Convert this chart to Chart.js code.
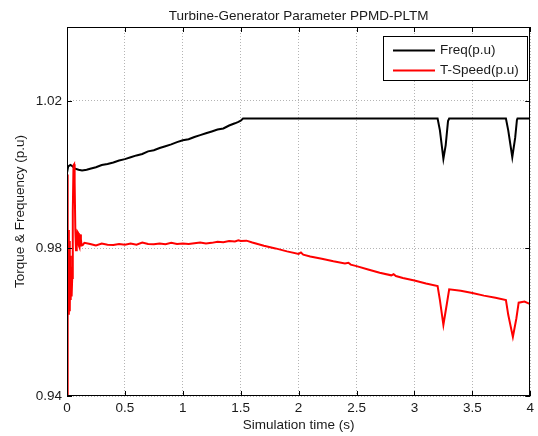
<!DOCTYPE html>
<html><head><meta charset="utf-8">
<script src="https://cdn.jsdelivr.net/npm/chart.js@4/dist/chart.umd.min.js"></script>
<style>html,body{margin:0;padding:0;background:#fff}#wrap{width:538px;height:436px}</style>
</head><body><div id="wrap"><canvas id="c" width="538" height="436"></canvas></div>
<script>
const chartTitle = 'Turbine-Generator Parameter PPMD-PLTM';
const xTitle = 'Simulation time (s)';
const yTitle = 'Torque & Frequency (p.u)';
const xTicks = [0, 0.5, 1, 1.5, 2, 2.5, 3, 3.5, 4];
const yTicks = [0.94, 0.98, 1.02];
const seriesNames = ['Freq(p.u)', 'T-Speed(p.u)'];

const freqTime = [0, 0.01, 0.03, 0.05, 0.07, 0.1, 0.13, 0.17, 0.2, 0.25, 0.3, 0.35, 0.4, 0.45, 0.5, 0.55, 0.6, 0.65, 0.7, 0.75, 0.8, 0.85, 0.9, 0.95, 1.0, 1.05, 1.1, 1.15, 1.2, 1.25, 1.3, 1.35, 1.4, 1.45, 1.48, 1.5, 1.52, 3.2, 3.22, 3.25, 3.27, 3.29, 3.3, 3.79, 3.81, 3.845, 3.87, 3.885, 3.89, 4.0];
const freqValues = [1.0005, 1.0022, 1.0026, 1.0022, 1.0016, 1.0013, 1.0011, 1.0013, 1.0016, 1.002, 1.0026, 1.0029, 1.0033, 1.0038, 1.0042, 1.0047, 1.0052, 1.0056, 1.0063, 1.0066, 1.0072, 1.0077, 1.0082, 1.0088, 1.0093, 1.0096, 1.0102, 1.0107, 1.0112, 1.0117, 1.0122, 1.0125, 1.0133, 1.0139, 1.0143, 1.0146, 1.0152, 1.0152, 1.012, 1.0043, 1.008, 1.0145, 1.0152, 1.0152, 1.012, 1.0047, 1.01, 1.0148, 1.0152, 1.0152];

const speedTime = [0, 0.004, 0.008, 0.012, 0.016, 0.02, 0.024, 0.028, 0.032, 0.036, 0.04, 0.045, 0.05, 0.056, 0.062, 0.066, 0.072, 0.078, 0.084, 0.09, 0.096, 0.102, 0.108, 0.114, 0.12, 0.126, 0.135, 0.15, 0.2, 0.25, 0.3, 0.35, 0.4, 0.45, 0.5, 0.55, 0.6, 0.65, 0.7, 0.75, 0.8, 0.85, 0.9, 0.95, 1.0, 1.05, 1.1, 1.15, 1.2, 1.25, 1.3, 1.35, 1.4, 1.45, 1.48, 1.5, 1.55, 1.6, 1.7, 1.8, 1.9, 2.0, 2.02, 2.04, 2.1, 2.2, 2.3, 2.4, 2.43, 2.45, 2.5, 2.6, 2.7, 2.8, 2.82, 2.84, 2.9, 3.0, 3.1, 3.2, 3.22, 3.25, 3.28, 3.3, 3.4, 3.5, 3.6, 3.7, 3.79, 3.81, 3.85, 3.88, 3.9, 3.95, 4.0];
const speedValues = [0.94, 1.0, 0.965, 0.985, 0.962, 0.982, 0.963, 0.978, 0.966, 0.975, 0.967, 0.972, 0.99, 1.0025, 1.0028, 0.998, 0.985, 0.9795, 0.981, 0.9845, 0.9842, 0.9808, 0.9803, 0.9838, 0.9825, 0.9808, 0.9809, 0.9815, 0.9812, 0.9808, 0.9813, 0.981, 0.9809, 0.9812, 0.981, 0.9813, 0.981, 0.9816, 0.9812, 0.9811, 0.9813, 0.9811, 0.9815, 0.9812, 0.9813, 0.9812, 0.9814, 0.9816, 0.9813, 0.9815, 0.9818, 0.9817, 0.982, 0.9819, 0.9822, 0.982, 0.9821, 0.9816, 0.9807, 0.98, 0.9792, 0.9785, 0.9789, 0.9783, 0.9778, 0.9772, 0.9765, 0.9759, 0.9761, 0.9756, 0.9752, 0.9743, 0.9734, 0.9727, 0.973, 0.9725, 0.972, 0.9713, 0.9705, 0.9698, 0.966, 0.9593, 0.965, 0.9689, 0.9685, 0.9679, 0.9672, 0.9666, 0.966, 0.962, 0.956, 0.961, 0.9653, 0.9656, 0.9649];

const FONT = 'Liberation Sans, Arial, sans-serif';
const FS = 13.5;
const TXT = '#1a1a1a';
const toXY = (ts, vs) => ts.map((t, i) => ({x: t, y: vs[i]}));

const framePlugin = {
  id: 'frame',
  afterDraw(chart) {
    const {ctx, chartArea: a, scales} = chart;
    ctx.save();
    // title
    ctx.fillStyle = TXT;
    ctx.font = FS + 'px ' + FONT;
    ctx.textAlign = 'center';
    ctx.textBaseline = 'alphabetic';
    ctx.fillText(chartTitle, (a.left + a.right) / 2, 19.5);
    ctx.strokeStyle = '#000';
    ctx.lineWidth = 1;
    ctx.strokeRect(Math.round(a.left) + 0.5, Math.round(a.top) + 0.5, Math.round(a.right - a.left) - 1, Math.round(a.bottom - a.top) - 1);
    const tl = 5;
    ctx.beginPath();
    xTicks.forEach(v => {
      const x = Math.round(scales.x.getPixelForValue(v)) + 0.5;
      ctx.moveTo(x, a.bottom); ctx.lineTo(x, a.bottom - tl);
      ctx.moveTo(x, a.top); ctx.lineTo(x, a.top + tl);
    });
    yTicks.forEach(v => {
      const y = Math.round(scales.y.getPixelForValue(v)) + 0.5;
      ctx.moveTo(a.left, y); ctx.lineTo(a.left + tl, y);
      ctx.moveTo(a.right, y); ctx.lineTo(a.right - tl, y);
    });
    ctx.stroke();
    // legend box
    const bx = 383.5, by = 36.5, bw = 144, bh = 44;
    ctx.fillStyle = '#fff';
    ctx.fillRect(bx, by, bw, bh);
    ctx.strokeRect(bx, by, bw, bh);
    chart.data.datasets.forEach((ds, i) => {
      const ly = 50.5 + i * 20;
      ctx.strokeStyle = ds.borderColor;
      ctx.lineWidth = 2;
      ctx.beginPath(); ctx.moveTo(393, ly); ctx.lineTo(435, ly); ctx.stroke();
      ctx.fillStyle = TXT;
      ctx.font = FS + 'px ' + FONT;
      ctx.textBaseline = 'middle';
      ctx.textAlign = 'left';
      ctx.fillText(ds.label, 440, ly);
    });
    ctx.restore();
  }
};

new Chart(document.getElementById('c'), {
  type: 'line',
  data: {
    datasets: [
      {label: seriesNames[0], data: toXY(freqTime, freqValues), borderColor: '#000000', borderWidth: 2, pointRadius: 0, tension: 0, order: 1},
      {label: seriesNames[1], data: toXY(speedTime, speedValues), borderColor: '#ff0000', borderWidth: 2, pointRadius: 0, tension: 0, order: 0}
    ]
  },
  options: {
    responsive: false,
    animation: false,
    devicePixelRatio: 1,
    layout: {padding: {left: 0, right: 7, top: 27, bottom: 0}},
    plugins: {
      legend: {display: false},
      tooltip: {enabled: false},
      title: {display: false}
    },
    scales: {
      x: {
        type: 'linear', min: 0, max: 4,
        afterBuildTicks: s => { s.ticks = xTicks.map(v => ({value: v})); },
        afterFit: s => { s.height = 40; },
        ticks: {color: TXT, font: {family: FONT, size: FS}, padding: 4, maxRotation: 0, autoSkip: false, callback: v => String(v)},
        grid: {color: '#b4b4b4', lineWidth: 1, drawTicks: false},
        border: {display: false, dash: [1, 2]},
        title: {display: true, text: xTitle, color: TXT, font: {family: FONT, size: FS}, padding: {top: 0, bottom: 3}}
      },
      y: {
        type: 'linear', min: 0.94, max: 1.04,
        afterBuildTicks: s => { s.ticks = yTicks.map(v => ({value: v})); },
        afterFit: s => { s.width = 67; },
        ticks: {color: TXT, font: {family: FONT, size: FS}, padding: 5, autoSkip: false, callback: v => Number(v).toFixed(2)},
        grid: {color: '#b4b4b4', lineWidth: 1, drawTicks: false},
        border: {display: false, dash: [1, 2]},
        title: {display: true, text: yTitle, color: TXT, font: {family: FONT, size: FS}, padding: {top: 12, bottom: 0}}
      }
    }
  },
  plugins: [framePlugin]
});
</script></body></html>
